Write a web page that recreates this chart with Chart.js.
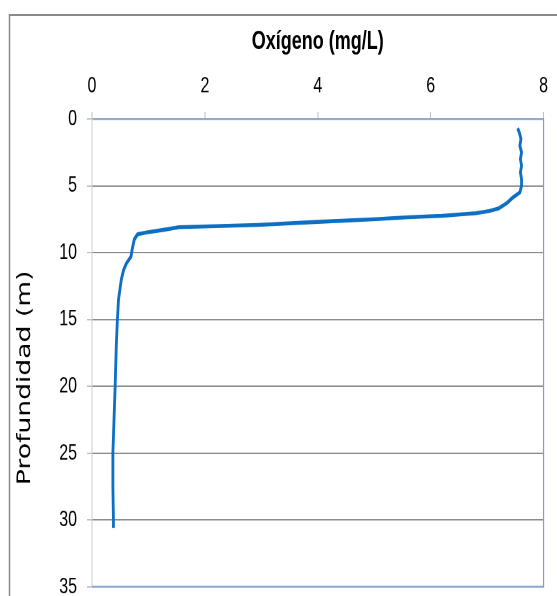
<!DOCTYPE html>
<html>
<head>
<meta charset="utf-8">
<script src="https://cdn.jsdelivr.net/npm/chart.js@4.4.0/dist/chart.umd.min.js"></script>
<style>
  html, body { margin: 0; padding: 0; background: #fff; overflow: hidden; }
  #outer { width: 557px; height: 596px; position: relative; overflow: hidden; }
  #wrap { position: absolute; left: 0; top: 0; width: 557px; height: 439px; transform: scale(1, 1.3991); transform-origin: 0 0; }
</style>
</head>
<body>
<div id="outer"><div id="wrap"><canvas id="myChart" width="557" height="439"></canvas></div></div>
<script>
// dissolved oxygen profile
const depth = [0.7, 1.0, 1.5, 2.0, 2.5, 3.0, 3.5, 4.0, 4.5, 5.0, 5.5, 5.9, 6.3, 6.7, 6.9,
  7.05, 7.25, 7.35, 7.5, 7.7, 7.93, 8.1, 8.3, 8.5, 8.62, 9.0, 9.8, 10.3, 10.8, 11.3,
  12.0, 13.5, 15, 17, 20, 22.5, 25, 27.5, 30, 30.6];
const oxygen = [7.54, 7.57, 7.60, 7.58, 7.61, 7.59, 7.61, 7.59, 7.61, 7.61, 7.58, 7.45, 7.35, 7.2, 7.03,
  6.8, 6.2, 5.6, 5.04, 4.0, 2.94, 1.54, 1.26, 0.95, 0.81, 0.75, 0.71, 0.69, 0.61, 0.56,
  0.52, 0.47, 0.45, 0.43, 0.41, 0.39, 0.37, 0.37, 0.38, 0.38];
const xTicks = [0, 2, 4, 6, 8];
const yTicks = [0, 5, 10, 15, 20, 25, 30, 35];

const xTitle = "Oxígeno (mg/L)";
const yTitle = "Profundidad (m)";

const ctx = document.getElementById("myChart");

// outer chart frame + plot frame + rotated depth title
const framePlugin = {
  id: "frame",
  beforeDraw: (chart) => {
    const c = chart.ctx;
    c.save();
    c.fillStyle = "#fff";
    c.fillRect(0, 0, chart.width, chart.height);
    c.strokeStyle = "#8a8a8a";
    c.lineWidth = 1.5;
    c.beginPath();
    c.moveTo(9.5, chart.height + 2);
    c.lineTo(9.5, 10.7);
    c.lineTo(chart.width + 2, 10.7);
    c.stroke();
    c.restore();
  },
  afterDraw: (chart) => {
    const c = chart.ctx;
    const a = chart.chartArea;
    c.save();
    c.strokeStyle = "#7f9fd0";
    c.lineWidth = 1.2;
    c.beginPath();
    c.moveTo(a.left, a.bottom);
    c.lineTo(a.right, a.bottom);
    c.lineTo(a.right, a.top);
    c.stroke();
    c.translate(25, 270);
    c.rotate(-Math.PI / 2);
    c.fillStyle = "#000";
    c.font = "19px 'DejaVu Sans'";
    c.textAlign = "center";
    c.textBaseline = "middle";
    c.fillText(yTitle, 0, 0);
    c.restore();
  },
};

const chart = new Chart(ctx, {
  type: "scatter",
  data: {
    datasets: [
      {
        data: depth.map((d, i) => ({ x: oxygen[i], y: d })),
        showLine: true,
        borderColor: "#0b6fc4",
        borderWidth: 2.8,
        pointRadius: 0,
        tension: 0,
      },
    ],
  },
  options: {
    responsive: false,
    animation: false,
    devicePixelRatio: 2,
    layout: { padding: { left: 0, right: 8, top: 0, bottom: 7 } },
    plugins: {
      legend: { display: false },
      tooltip: { enabled: false },
    },
    scales: {
      x: {
        type: "linear",
        position: "top",
        min: 0,
        max: 8,
        afterBuildTicks: (s) => { s.ticks = xTicks.map((v) => ({ value: v })); },
        afterFit: (s) => { s.height = 85; },
        ticks: {
          color: "#000",
          padding: 9,
          font: { family: "'Liberation Sans', Arial, sans-serif", size: 16 },
        },
        grid: { drawOnChartArea: false, tickLength: 5, tickColor: "#c0c0c0" },
        border: { color: "#7f9fd0", width: 1.2 },
        title: {
          display: true,
          text: xTitle,
          color: "#000",
          padding: { top: 19, bottom: 0 },
          font: { family: "'Liberation Sans', Arial, sans-serif", size: 18, weight: "bold" },
        },
      },
      y: {
        type: "linear",
        reverse: true,
        min: 0,
        max: 35,
        afterBuildTicks: (s) => { s.ticks = yTicks.map((v) => ({ value: v })); },
        afterFit: (s) => { s.width = 92; },
        ticks: {
          color: "#000",
          padding: 10,
          font: { family: "'Liberation Sans', Arial, sans-serif", size: 16 },
        },
        grid: { color: "#8c8c8c", lineWidth: 1, tickLength: 5, tickColor: "#c0c0c0" },
        border: { color: "#cfcfcf", width: 1 },
      },
    },
  },
  plugins: [framePlugin],
});
</script>
</body>
</html>
